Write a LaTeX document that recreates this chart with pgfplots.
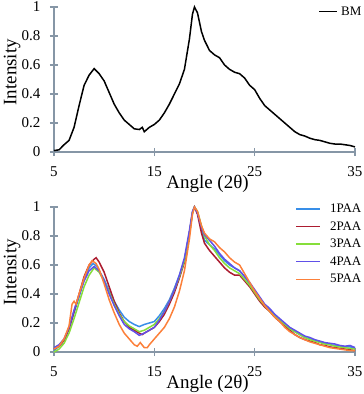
\documentclass[border=0pt]{standalone}
\usepackage{fontspec}
\setmainfont{Liberation Serif}
\usepackage{pgfplots}
\pgfplotsset{compat=1.18}
\definecolor{axisgray}{RGB}{134,150,166}
\definecolor{c1}{RGB}{56,142,232}
\definecolor{c2}{RGB}{172,28,48}
\definecolor{c3}{RGB}{134,222,58}
\definecolor{c4}{RGB}{96,80,232}
\definecolor{c5}{RGB}{252,128,58}
\pgfplotsset{
  xrd/.style={
    scale only axis, width=301pt, height=145pt, anchor=south west,
    xmin=5, xmax=35, ymin=0, ymax=1,
    xtick={5,15,25,35}, ytick={0,0.2,0.4,0.6,0.8,1},
    axis x line*=bottom, axis y line*=left,
    axis line style={draw=axisgray, line width=1.2pt, -},
    tick align=outside, major tick length=8pt,
    tick style={draw=axisgray, line width=1.2pt},
    xtick style={yshift=4pt},
    ytick style={xshift=4pt},
    /pgf/number format/assume math mode=true,
    tick label style={font=\fontsize{15}{17}\selectfont},
    xticklabel style={yshift=-3pt},
    yticklabel style={xshift=-2pt},
    label style={font=\fontsize{19}{21}\selectfont},
    xlabel={Angle (2θ)},
    xlabel style={at={(axis description cs:0.51,-0.255)}, anchor=base},
    ylabel={Intensity},
    ylabel style={at={(axis description cs:-0.125,0.55)}, anchor=base},
    clip=false,
    legend cell align=left,
    every axis plot/.append style={line width=1.5pt},
  }
}
\begin{document}
\begin{tikzpicture}
\path[use as bounding box] (0pt,0pt) rectangle (364pt,394pt);

% top panel: ball milled
\begin{axis}[xrd, at={(54pt,242pt)},
  legend style={draw=none, fill=none, at={(axis description cs:1.025,0.968)}, anchor=east,
    inner sep=0pt, nodes={inner sep=1pt}, column sep=2pt,
    font=\fontsize{13}{15}\selectfont},
  legend image code/.code={\draw[#1] (0pt,0pt) -- (18pt,0pt);}]
\addplot[black] coordinates {
(5,0.01) (5.5,0.015) (6,0.05) (6.5,0.08) (7,0.17) (7.5,0.32) (8,0.46) (8.5,0.53)
(9,0.575) (9.5,0.54) (10,0.49) (10.5,0.41) (11,0.33) (11.5,0.27) (12,0.22) (12.5,0.19)
(13,0.16) (13.5,0.155) (13.8,0.17) (14,0.14) (14.5,0.17) (15,0.19) (15.5,0.22) (16,0.27)
(16.5,0.33) (17,0.40) (17.5,0.47) (18,0.57) (18.5,0.78) (18.8,0.95) (19,1.0) (19.3,0.96)
(19.7,0.83) (20,0.77) (20.5,0.70) (21,0.67) (21.5,0.65) (22,0.60) (22.5,0.57) (23,0.55)
(23.5,0.54) (24,0.51) (24.5,0.46) (25,0.43) (25.5,0.37) (26,0.32) (26.5,0.29) (27,0.26)
(27.5,0.23) (28,0.20) (28.5,0.17) (29,0.14) (29.5,0.12) (30,0.11) (30.5,0.095) (31,0.085)
(31.5,0.08) (32,0.07) (32.5,0.06) (33,0.055) (33.5,0.055) (34,0.05) (34.5,0.045) (35,0.035)
};
\addlegendentry{BM}
\end{axis}

% bottom panel: PAA samples
\begin{axis}[xrd, at={(54pt,42pt)},
  legend style={draw=none, fill=none, at={(axis description cs:1.025,1.03)}, anchor=north east,
    inner sep=0pt, nodes={inner sep=1pt}, column sep=8pt, row sep=5.5pt,
    font=\fontsize{13}{15}\selectfont},
  legend image code/.code={\draw[#1] (0pt,0pt) -- (24pt,0pt);}]
\addplot[c1] coordinates {
(5,0.01) (5.5,0.04) (6,0.08) (6.5,0.16) (7,0.27) (7.5,0.38) (8,0.50) (8.5,0.58)
(8.9,0.61) (9.3,0.59) (9.5,0.56) (10,0.50) (10.5,0.42) (11,0.35) (11.5,0.29) (12,0.24)
(12.5,0.21) (13,0.19) (13.5,0.175) (14,0.19) (14.5,0.20) (15,0.21) (15.5,0.25) (16,0.30)
(16.5,0.36) (17,0.44) (17.5,0.53) (18,0.63) (18.5,0.82) (18.8,0.96) (19,1.0) (19.3,0.96)
(19.7,0.85) (20,0.77) (20.5,0.74) (21,0.71) (21.5,0.67) (22,0.63) (22.5,0.60) (23,0.58)
(23.5,0.56) (24,0.52) (24.5,0.47) (25,0.42) (25.5,0.37) (26,0.32) (26.5,0.29) (27,0.25)
(27.5,0.22) (28,0.19) (28.5,0.16) (29,0.14) (29.5,0.12) (30,0.10) (30.5,0.09) (31,0.08)
(31.5,0.07) (32,0.06) (32.5,0.05) (33,0.045) (33.5,0.04) (34,0.035) (34.5,0.035) (35,0.03)
};
\addlegendentry{1PAA}
\addplot[c2] coordinates {
(5,0.02) (5.5,0.04) (6,0.08) (6.5,0.16) (7,0.28) (7.5,0.40) (8,0.52) (8.5,0.60)
(9,0.64) (9.2,0.65) (9.5,0.62) (10,0.55) (10.5,0.45) (11,0.35) (11.5,0.27) (12,0.21)
(12.5,0.17) (13,0.15) (13.5,0.13) (13.8,0.12) (14,0.13) (14.5,0.15) (15,0.17) (15.5,0.21)
(16,0.26) (16.5,0.33) (17,0.41) (17.5,0.51) (18,0.62) (18.5,0.82) (18.8,0.96) (19,1.0)
(19.3,0.95) (19.7,0.82) (20,0.75) (20.5,0.70) (21,0.66) (21.5,0.62) (22,0.58) (22.5,0.55)
(23,0.53) (23.5,0.53) (24,0.49) (24.5,0.45) (25,0.40) (25.5,0.35) (26,0.31) (26.5,0.28)
(27,0.24) (27.5,0.21) (28,0.18) (28.5,0.15) (29,0.12) (29.5,0.10) (30,0.085) (30.5,0.075)
(31,0.065) (31.5,0.05) (32,0.045) (32.5,0.035) (33,0.03) (33.5,0.025) (34,0.02) (34.5,0.015) (35,0.01)
};
\addlegendentry{2PAA}
\addplot[c3] coordinates {
(5,0.0) (5.5,0.02) (6,0.06) (6.5,0.13) (7,0.23) (7.5,0.34) (8,0.45) (8.5,0.53)
(9,0.58) (9.5,0.55) (10,0.49) (10.5,0.41) (11,0.33) (11.5,0.26) (12,0.21) (12.5,0.18)
(13,0.16) (13.5,0.14) (14,0.15) (14.5,0.17) (15,0.19) (15.5,0.23) (16,0.28) (16.5,0.35)
(17,0.43) (17.5,0.52) (18,0.63) (18.5,0.82) (18.8,0.96) (19,1.0) (19.3,0.97) (19.7,0.87)
(20,0.80) (20.5,0.74) (21,0.70) (21.5,0.65) (22,0.61) (22.5,0.58) (23,0.56) (23.5,0.54)
(24,0.50) (24.5,0.46) (25,0.41) (25.5,0.36) (26,0.32) (26.5,0.28) (27,0.25) (27.5,0.22)
(28,0.19) (28.5,0.16) (29,0.14) (29.5,0.12) (30,0.10) (30.5,0.085) (31,0.075) (31.5,0.065)
(32,0.055) (32.5,0.05) (33,0.04) (33.5,0.035) (34,0.03) (34.5,0.025) (35,0.02)
};
\addlegendentry{3PAA}
\addplot[c4] coordinates {
(5,0.03) (5.5,0.05) (6,0.09) (6.5,0.17) (7,0.29) (7.5,0.39) (8,0.49) (8.5,0.56)
(9,0.59) (9.5,0.56) (10,0.49) (10.5,0.40) (11,0.32) (11.5,0.25) (12,0.19) (12.5,0.16)
(13,0.14) (13.5,0.115) (14,0.13) (14.5,0.15) (15,0.17) (15.5,0.22) (16,0.28) (16.5,0.35)
(17,0.43) (17.5,0.53) (18,0.65) (18.5,0.84) (18.8,0.97) (19,1.0) (19.3,0.96) (19.7,0.86)
(20,0.81) (20.5,0.77) (21,0.73) (21.5,0.68) (22,0.64) (22.5,0.61) (23,0.58) (23.5,0.56)
(24,0.52) (24.5,0.48) (25,0.43) (25.5,0.38) (26,0.33) (26.5,0.30) (27,0.26) (27.5,0.23)
(28,0.20) (28.5,0.17) (29,0.15) (29.5,0.13) (30,0.11) (30.5,0.10) (31,0.085) (31.5,0.075)
(32,0.065) (32.5,0.06) (33,0.055) (33.5,0.045) (34,0.04) (34.5,0.045) (35,0.03)
};
\addlegendentry{4PAA}
\addplot[c5] coordinates {
(5,0.02) (5.5,0.04) (6,0.09) (6.5,0.18) (6.8,0.33) (7,0.35) (7.2,0.33) (7.5,0.40)
(8,0.51) (8.5,0.60) (8.8,0.63) (9.2,0.61) (9.5,0.57) (10,0.47) (10.5,0.36) (11,0.27)
(11.5,0.19) (12,0.13) (12.5,0.09) (13,0.05) (13.3,0.04) (13.6,0.065) (14,0.03) (14.3,0.03)
(14.5,0.05) (15,0.09) (15.5,0.13) (16,0.17) (16.5,0.23) (17,0.31) (17.5,0.42) (18,0.56)
(18.5,0.78) (18.8,0.95) (19,1.0) (19.3,0.97) (19.7,0.87) (20,0.82) (20.5,0.78) (21,0.76)
(21.5,0.72) (22,0.69) (22.5,0.65) (23,0.62) (23.5,0.60) (24,0.54) (24.5,0.48) (25,0.42)
(25.5,0.37) (26,0.32) (26.5,0.28) (27,0.24) (27.5,0.21) (28,0.17) (28.5,0.14) (29,0.12)
(29.5,0.10) (30,0.085) (30.5,0.07) (31,0.06) (31.5,0.05) (32,0.04) (32.5,0.03) (33,0.025)
(33.5,0.02) (34,0.015) (34.5,0.01) (35,0.01)
};
\addlegendentry{5PAA}
\end{axis}
\end{tikzpicture}
\end{document}
